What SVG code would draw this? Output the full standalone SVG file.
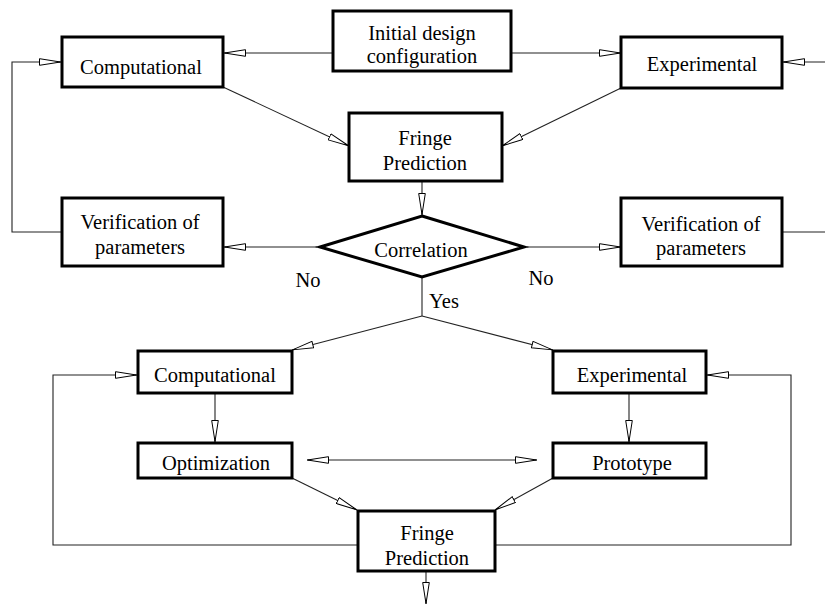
<svg xmlns="http://www.w3.org/2000/svg" width="825" height="604" viewBox="0 0 825 604">
<style>
.box{fill:#fff;stroke:#000;stroke-width:3}
.t{font-family:"Liberation Serif","Times New Roman",serif;font-size:20.5px;fill:#000;text-anchor:middle}
.c{fill:none;stroke:#222;stroke-width:1.1}
</style>
<defs>
<marker id="ah" viewBox="0 0 22 8" refX="22" refY="4" markerWidth="22" markerHeight="8" markerUnits="userSpaceOnUse" orient="auto">
<path d="M0.5,0.7 L21.5,4 L0.5,7.3 Z" fill="#fff" stroke="#000" stroke-width="1"/>
</marker>
</defs>
<rect width="825" height="604" fill="#fff"/>
<g id="connectors">
<line class="c" x1="333" y1="53" x2="224" y2="53" marker-end="url(#ah)"/>
<line class="c" x1="511" y1="53" x2="621" y2="53" marker-end="url(#ah)"/>
<line class="c" x1="825" y1="62" x2="783" y2="62" marker-end="url(#ah)"/>
<line class="c" x1="223" y1="87" x2="349" y2="146" marker-end="url(#ah)"/>
<line class="c" x1="621" y1="88" x2="502" y2="146" marker-end="url(#ah)"/>
<line class="c" x1="422" y1="181" x2="422" y2="215" marker-end="url(#ah)"/>
<line class="c" x1="317" y1="247" x2="224" y2="247" marker-end="url(#ah)"/>
<line class="c" x1="527" y1="247" x2="621" y2="247" marker-end="url(#ah)"/>
<polyline class="c" points="62,232 12,232 12,62 61,62" marker-end="url(#ah)"/>
<line class="c" x1="782" y1="232" x2="825" y2="232"/>
<line class="c" x1="422" y1="277" x2="422" y2="316"/>
<line class="c" x1="422" y1="316" x2="292" y2="350" marker-end="url(#ah)"/>
<line class="c" x1="422" y1="316" x2="553" y2="350" marker-end="url(#ah)"/>
<line class="c" x1="215" y1="393" x2="215" y2="442" marker-end="url(#ah)"/>
<line class="c" x1="629" y1="393" x2="629" y2="442" marker-end="url(#ah)"/>
<line class="c" x1="422" y1="460" x2="307" y2="460" marker-end="url(#ah)"/>
<line class="c" x1="422" y1="460" x2="537" y2="460" marker-end="url(#ah)"/>
<line class="c" x1="292" y1="478" x2="357" y2="510" marker-end="url(#ah)"/>
<line class="c" x1="553" y1="478" x2="495" y2="510" marker-end="url(#ah)"/>
<polyline class="c" points="358,545 53,545 53,375 137,375" marker-end="url(#ah)"/>
<polyline class="c" points="495,545 791,545 791,375 707,375" marker-end="url(#ah)"/>
<line class="c" x1="426" y1="571" x2="426" y2="604" marker-end="url(#ah)"/>
</g>
<g id="initial">
<rect class="box" x="333" y="11" width="178" height="60"/>
<text class="t" x="422" y="40">Initial design</text>
<text class="t" x="422" y="63">configuration</text>
</g>
<g id="comp1">
<rect class="box" x="62" y="37" width="161" height="50"/>
<text class="t" x="141" y="74">Computational</text>
</g>
<g id="exp1">
<rect class="box" x="621" y="37" width="161" height="51"/>
<text class="t" x="702" y="71">Experimental</text>
</g>
<g id="fringe1">
<rect class="box" x="349" y="113" width="153" height="68"/>
<text class="t" x="425" y="145">Fringe</text>
<text class="t" x="425" y="170">Prediction</text>
</g>
<g id="correlation">
<polygon class="box" points="422,216 524,247 422,277 320,247"/>
<text class="t" x="421" y="257">Correlation</text>
</g>
<g id="verif1">
<rect class="box" x="62" y="198" width="161" height="68"/>
<text class="t" x="140" y="229">Verification of</text>
<text class="t" x="140" y="254">parameters</text>
</g>
<g id="verif2">
<rect class="box" x="621" y="198" width="161" height="68"/>
<text class="t" x="701" y="231">Verification of</text>
<text class="t" x="701" y="255">parameters</text>
</g>
<g id="labels">
<text class="t" x="308" y="287">No</text>
<text class="t" x="541" y="285">No</text>
<text class="t" x="444" y="308">Yes</text>
</g>
<g id="comp2">
<rect class="box" x="138" y="351" width="154" height="42"/>
<text class="t" x="215" y="382">Computational</text>
</g>
<g id="exp2">
<rect class="box" x="553" y="351" width="153" height="42"/>
<text class="t" x="632" y="382">Experimental</text>
</g>
<g id="optimization">
<rect class="box" x="138" y="443" width="154" height="35"/>
<text class="t" x="216" y="470">Optimization</text>
</g>
<g id="prototype">
<rect class="box" x="553" y="443" width="153" height="35"/>
<text class="t" x="632" y="470">Prototype</text>
</g>
<g id="fringe2">
<rect class="box" x="358" y="511" width="137" height="60"/>
<text class="t" x="427" y="540">Fringe</text>
<text class="t" x="427" y="565">Prediction</text>
</g>
</svg>
